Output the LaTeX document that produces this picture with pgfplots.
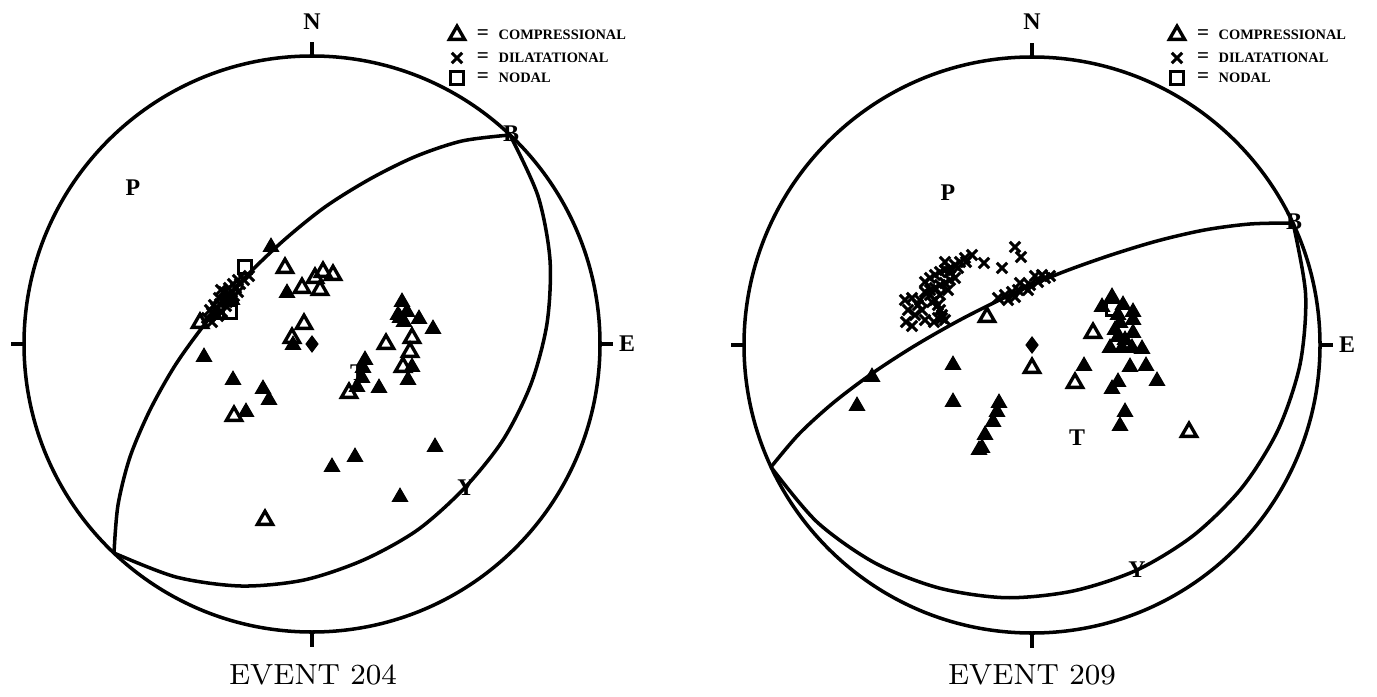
\documentclass[border=0pt]{standalone}
\usepackage{fontspec}
\usepackage{pgfplots}
\pgfplotsset{compat=1.18}
\newfontfamily\labfont{Liberation Serif}
\tikzset{
  lbl/.style={font=\labfont\fontsize{6.8}{7}\selectfont\bfseries},
  leg/.style={font=\labfont\fontsize{4.1}{4.5}\selectfont\bfseries, anchor=west, inner sep=0pt},
  eq/.style={font=\labfont\fontsize{6}{6}\selectfont\bfseries, inner sep=0pt},
}
\begin{document}
\begin{tikzpicture}
\begin{axis}[
  width=13.77cm, height=6.95cm, scale only axis,
  xmin=0, xmax=1377, ymin=0, ymax=695, y dir=reverse,
  axis lines=none, clip=false,
  filled/.style={only marks, mark=triangle*, mark size=2.4pt, mark options={fill=black, draw=black, line width=0.4pt}},
  open/.style={only marks, mark=triangle, mark size=2.5pt, mark options={line width=0.95pt, draw=black}},
  dil/.style={only marks, mark=x, mark size=2.1pt, mark options={line width=0.85pt, draw=black}},
  nod/.style={only marks, mark=square, mark size=1.9pt, mark options={line width=0.9pt, draw=black}},
  plane/.style={no marks, smooth, black, line width=1pt},
]
% keep the page exactly the size of the axis box
\path (axis cs:0,0) rectangle (axis cs:1377,695);

% ---------------- EVENT 204 ----------------
\draw[line width=1pt] (axis cs:312,344) circle[radius=288];
\draw[line width=1pt] (axis cs:312,56) -- (axis cs:312,42);
\draw[line width=1pt] (axis cs:600,344) -- (axis cs:613,344);
\draw[line width=1pt] (axis cs:312,632) -- (axis cs:312,647);
\draw[line width=1pt] (axis cs:24,344) -- (axis cs:11,344);

\addplot[plane] coordinates {(114,553) (118,505) (130,457) (150,410) (176,364) (208,320) (243.5,279) (283,241) (325,207) (370,179) (415.5,156.5) (462,141) (510,135)};
\addplot[plane] coordinates {(510,135) (538,196) (550,260) (547,323.5) (531,384) (503,440) (464,488.5) (417.5,530) (363.5,560) (304,580) (241,586) (176,577) (114,553)};

\addplot[filled] coordinates {
 (271,247) (287,293) (293,345) (204,357) (233,380) (263,389) (269,400) (246,412)
 (402,302) (398,315) (407,312) (404,322) (400,318) (419,319) (433,329)
 (412,367) (408,380) (363,368) (362,378) (357,387) (365,360) (379,388)
 (435,447) (332,467) (355,457) (400,497) (225,295) (232,300) (215,315)};
\addplot[open] coordinates {
 (200,323) (285,268) (302,288) (315,278) (323,272) (333,275) (320,290)
 (304,324) (292,338) (234,416) (386,344) (412,338) (410,352) (403,367)
 (349,393) (265,520)};
\addplot[dil] coordinates {
 (207,318) (212,313) (216,308) (220,304) (224,300) (228,296) (232,292) (236,288)
 (240,284) (244,280) (212,322) (218,316) (222,312) (226,306) (230,300) (234,296)
 (238,292) (214,305) (219,298) (224,292) (229,288) (233,284) (238,280) (249,276)
 (210,310) (227,302) (221,290)};
\addplot[nod] coordinates {(245,267) (230,312)};
\addplot[only marks, mark=diamond*, mark size=2.2pt, black] coordinates {(312,344)};

\node[lbl] at (axis cs:133,188) {P};
\node[lbl] at (axis cs:358,373) {T};
\node[lbl] at (axis cs:511,134) {B};
\node[lbl] at (axis cs:466,488) {Y};
\node[lbl] at (axis cs:312,22) {N};
\node[lbl] at (axis cs:627,344) {E};
\node[font=\fontsize{8.3}{9}\selectfont] at (axis cs:313,675) {EVENT 204};

\addplot[open] coordinates {(457,35)};
\addplot[dil] coordinates {(457,58)};
\addplot[nod] coordinates {(457,78)};
\node[eq] at (axis cs:483,35) {=};
\node[eq] at (axis cs:483,58) {=};
\node[eq] at (axis cs:483,78) {=};
\node[leg] at (axis cs:498,35) {COMPRESSIONAL};
\node[leg] at (axis cs:498,58) {DILATATIONAL};
\node[leg] at (axis cs:498,78) {NODAL};

% ---------------- EVENT 209 ----------------
\draw[line width=1pt] (axis cs:1032,345) circle[radius=288];
\draw[line width=1pt] (axis cs:1032,57) -- (axis cs:1032,43);
\draw[line width=1pt] (axis cs:1320,345) -- (axis cs:1333,345);
\draw[line width=1pt] (axis cs:1032,633) -- (axis cs:1032,648);
\draw[line width=1pt] (axis cs:744,345) -- (axis cs:731,345);

\addplot[plane] coordinates {(771,467) (799,434) (833,403) (872,373.5) (915,345.6) (961,319.4) (1009,295.5) (1058,274) (1108,256) (1157,241) (1204.5,230) (1250,224) (1293,223)};
\addplot[plane] coordinates {(1293,223) (1305.6,294.4) (1300,364.5) (1278,430) (1242,487.6) (1194,535) (1137,570) (1073,591) (1006,597.7) (939,588) (875,563) (817,522) (771,467)};

\addplot[filled] coordinates {
 (872,377) (857,406) (953,365) (953,402) (999,403) (997,412) (993,422) (985,435)
 (982,448) (979,450) (1102,307) (1112,297) (1123,305) (1133,312) (1133,320)
 (1120,323) (1115,330) (1118,337) (1125,340) (1133,333) (1110,348) (1122,348)
 (1132,348) (1142,349) (1118,315) (1084,366) (1130,367) (1146,366) (1118,382)
 (1112,389) (1157,381) (1125,412) (1120,426)};
\addplot[open] coordinates {(987,317) (1093,333) (1032,368) (1075,383) (1189,432)};
\addplot[dil] coordinates {
 (905,300) (912,298) (920,300) (908,310) (915,315) (922,310) (906,322) (912,326)
 (925,320) (918,305) (925,282) (930,278) (935,275) (940,272) (945,270) (950,268)
 (955,265) (960,262) (965,258) (930,290) (935,288) (940,285) (945,283) (950,280)
 (955,278) (935,300) (938,305) (940,310) (942,315) (945,320) (930,295) (932,302)
 (940,295) (948,290) (925,292) (938,318) (950,272) (972,255) (984,263) (1002,268)
 (1015,247) (1021,257) (966,262) (958,268) (945,262) (942,318) (934,322)
 (998,298) (1005,295) (1012,292) (1018,290) (1025,287) (1030,285) (1038,282)
 (1045,278) (1050,276) (1008,300) (1020,283) (1035,276) (1042,275) (1028,290) (1015,297)};
\addplot[nod] coordinates {(1113,309)};
\addplot[only marks, mark=diamond*, mark size=2.2pt, black] coordinates {(1032,345)};

\node[lbl] at (axis cs:948,193) {P};
\node[lbl] at (axis cs:1077,438) {T};
\node[lbl] at (axis cs:1294,222) {B};
\node[lbl] at (axis cs:1137,570) {Y};
\node[lbl] at (axis cs:1032,22) {N};
\node[lbl] at (axis cs:1347,345) {E};
\node[font=\fontsize{8.3}{9}\selectfont] at (axis cs:1032,675) {EVENT 209};

\addplot[open] coordinates {(1177,35)};
\addplot[dil] coordinates {(1177,58)};
\addplot[nod] coordinates {(1177,78)};
\node[eq] at (axis cs:1203,35) {=};
\node[eq] at (axis cs:1203,58) {=};
\node[eq] at (axis cs:1203,78) {=};
\node[leg] at (axis cs:1218,35) {COMPRESSIONAL};
\node[leg] at (axis cs:1218,58) {DILATATIONAL};
\node[leg] at (axis cs:1218,78) {NODAL};
\end{axis}
\end{tikzpicture}
\end{document}
